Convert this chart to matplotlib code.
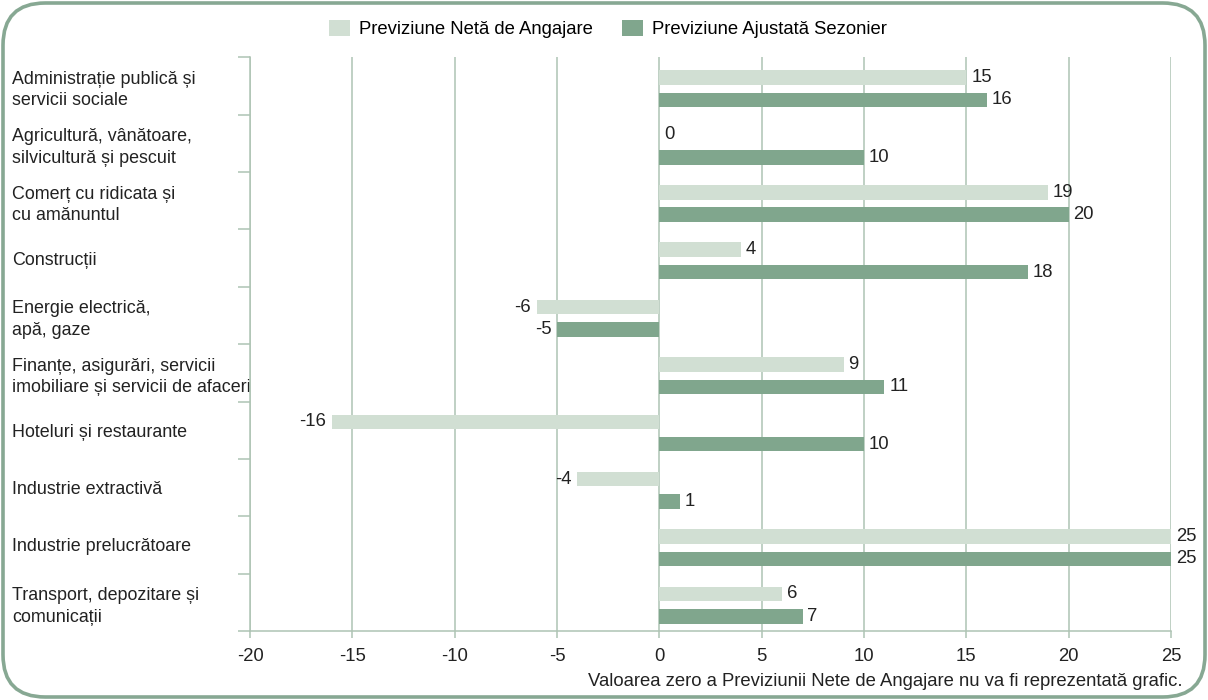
import matplotlib.pyplot as plt
from matplotlib.patches import FancyBboxPatch, Patch
from matplotlib.transforms import offset_copy
import numpy as np

plt.rcParams['font.family'] = ['Liberation Sans', 'DejaVu Sans']

# data
categories = [
    'Administrație publică și\nservicii sociale',
    'Agricultură, vânătoare,\nsilvicultură și pescuit',
    'Comerț cu ridicata și\ncu amănuntul',
    'Construcții',
    'Energie electrică,\napă, gaze',
    'Finanțe, asigurări, servicii\nimobiliare și servicii de afaceri',
    'Hoteluri și restaurante',
    'Industrie extractivă',
    'Industrie prelucrătoare',
    'Transport, depozitare și\ncomunicații',
]
net_values = [15, 0, 19, 4, -6, 9, -16, -4, 25, 6]
adjusted_values = [16, 10, 20, 18, -5, 11, 10, 1, 25, 7]
series_names = ['Previziune Netă de Angajare', 'Previziune Ajustată Sezonier']
x_ticks = [-20, -15, -10, -5, 0, 5, 10, 15, 20, 25]
footnote = 'Valoarea zero a Previziunii Nete de Angajare nu va fi reprezentată grafic.'

light = '#d1dfd3'
dark = '#80a68d'
grid_col = '#aec3b4'
border_col = '#87a893'
txt_col = '#222222'
fs = 13.3

fig = plt.figure(figsize=(12.08, 7.0), dpi=100)
W, H = 1208, 700

# rounded frame
frame = FancyBboxPatch((3 / W, 3 / H), 1 - 6 / W, 1 - 6 / H,
                       boxstyle='round,pad=0,rounding_size=0.035',
                       transform=fig.transFigure, facecolor='none',
                       edgecolor=border_col, linewidth=2.6, mutation_aspect=W / H,
                       zorder=-1)
fig.patches.append(frame)

ax = fig.add_axes([250 / W, 1 - 631 / H, (1171 - 250) / W, (631 - 57.3) / H])
ax.set_facecolor('none')

n = len(categories)
y = np.arange(n)
bh = 0.253
off_net = -0.147
off_adj = 0.243
ax.barh(y + off_net, net_values, height=bh, color=light, zorder=3)
ax.barh(y + off_adj, adjusted_values, height=bh, color=dark, zorder=3)

for vals, dy in ((net_values, off_net), (adjusted_values, off_adj)):
    for yi, v in zip(y, vals):
        if v < 0:
            tr = offset_copy(ax.transData, fig=fig, x=-4, y=0, units='points')
            ax.text(v, yi + dy, str(v), ha='right', va='center', fontsize=fs,
                    color=txt_col, transform=tr, clip_on=False)
        else:
            tr = offset_copy(ax.transData, fig=fig, x=3.5, y=0, units='points')
            ax.text(v, yi + dy, str(v), ha='left', va='center', fontsize=fs,
                    color=txt_col, transform=tr, clip_on=False)

ax.set_xlim(-20, 25)
ax.set_ylim(n - 0.5, -0.5)
ax.set_xticks(x_ticks)
ax.set_xticklabels([str(t) for t in x_ticks], fontsize=fs, color=txt_col)
ax.xaxis.grid(True, color=grid_col, linewidth=1.1, zorder=0)
ax.tick_params(axis='x', length=5, width=1.1, color=grid_col, pad=7)

ax.set_yticks(y)
ax.set_yticklabels(categories, fontsize=12.9, color=txt_col, linespacing=1.33)
ax.set_yticks(np.arange(n + 1) - 0.5, minor=True)
ax.tick_params(axis='y', which='major', length=0, pad=171)
ax.tick_params(axis='y', which='minor', length=9, width=1.1, color=grid_col)
for lbl in ax.get_yticklabels():
    lbl.set_ha('left')

for s in ('top', 'right'):
    ax.spines[s].set_visible(False)
for s in ('left', 'bottom'):
    ax.spines[s].set_color(grid_col)
    ax.spines[s].set_linewidth(1.1)

handles = [Patch(facecolor=light, edgecolor='none'), Patch(facecolor=dark, edgecolor='none')]
fig.legend(handles, series_names, loc='center', bbox_to_anchor=(608 / W, 1 - 29 / H),
           ncol=2, frameon=False, fontsize=fs, handlelength=1.1, handleheight=1.0,
           handletextpad=0.5, columnspacing=1.6)

fig.text(1183 / W, 1 - 681 / H, footnote, ha='right', va='center', fontsize=fs,
         color=txt_col)

fig.savefig('out.png', dpi=100)
